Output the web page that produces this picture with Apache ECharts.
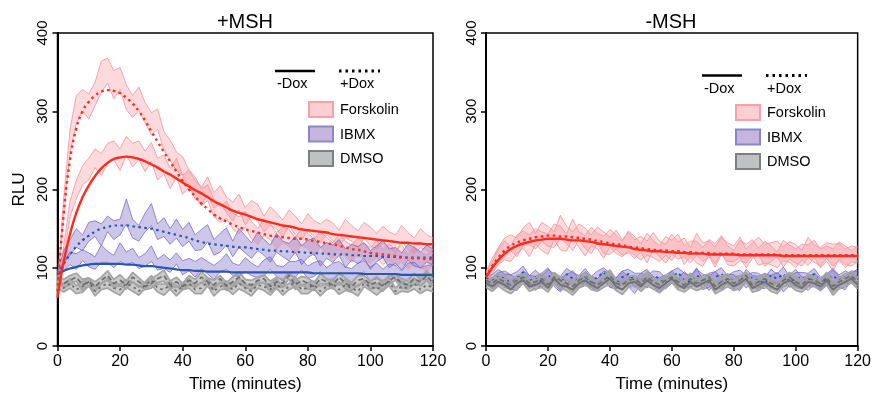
<!DOCTYPE html>
<html><head><meta charset="utf-8">
<script src="https://cdn.jsdelivr.net/npm/echarts@6/dist/echarts.min.js"></script>
<style>html,body{margin:0;padding:0;background:#fff}#c{width:874px;height:398px}</style>
</head><body><div id="c"></div>
<script>
const FONT = "'Liberation Sans', Arial, sans-serif";
const time = [0,2,4,6,8,10,12,14,16,18,20,22,24,26,28,30,32,34,36,38,40,42,44,46,48,50,52,54,56,58,60,62,64,66,68,70,72,74,76,78,80,82,84,86,88,90,92,94,96,98,100,102,104,106,108,110,112,114,116,118,120];
const xTicks = [0,20,40,60,80,100,120];
const yTicks = [0,100,200,300,400];
const panelTitles = ['+MSH','-MSH'];
const legendItems = ['Forskolin','IBMX','DMSO'];
const doxLabels = ['-Dox','+Dox'];

// ---- +MSH panel ----
const fskMinusL_mean = [66,120,175,200,218,226,240,232,246,250,238,256,244,250,236,248,226,232,214,228,206,214,200,192,204,186,194,180,172,184,166,176,170,156,166,160,150,164,154,146,158,150,144,152,146,138,150,144,136,148,140,134,142,136,130,144,134,128,138,132,128];
const fskMinusL_sem = [4,8,10,12,12,14,12,14,13,12,14,12,15,12,13,12,14,12,13,12,12,11,12,11,12,10,11,10,12,10,11,10,11,10,12,10,11,10,12,10,11,10,12,10,11,10,12,10,11,10,12,10,11,10,12,10,11,10,12,10,10];
const fskPlusL_mean = [75,178,262,302,314,306,322,344,352,334,342,318,306,316,298,284,290,262,250,236,230,214,204,190,196,176,168,174,160,154,162,148,140,152,146,134,142,138,128,140,134,126,136,128,122,132,124,118,128,120,116,124,114,120,112,118,108,116,110,106,114];
const fskPlusL_sem = [5,12,15,18,14,16,15,20,16,18,14,16,14,15,13,14,13,12,13,12,12,11,12,11,10,11,10,11,10,11,10,11,10,11,10,11,10,11,10,11,10,11,10,11,10,11,10,11,10,11,10,11,10,11,10,11,10,11,10,11,10];
const fskMinusL_fit = [62,108,143,170,190,205,217,227,234,239,241,242,241,239,236,232,228,223,219,214,209,204,199,195,190,185,181,177,173,170,168,165,162,160,158,156,154,153,151,149,148,147,146,145,143,142,141,140,139,138,137,136,135,134,133,132,132,131,131,130,130];
const fskPlusL_fit = [70,170,238,278,300,312,320,325,327,326,323,317,310,300,288,274,261,248,236,223,211,200,191,182,175,168,163,159,155,152,149,147,145,143,141,140,139,138,137,137,136,134,133,131,130,128,126,124,123,121,119,118,117,116,115,113,113,112,112,111,111];
const ibmxMinusL_mean = [92,102,112,108,116,110,106,118,114,108,120,112,116,106,110,118,104,108,102,112,100,104,98,106,100,94,102,108,98,96,104,98,94,100,106,96,92,100,98,104,94,98,102,92,96,100,94,90,98,102,92,96,90,98,94,88,96,100,92,94,96];
const ibmxMinusL_sem = [3,6,8,10,7,9,8,11,7,8,12,8,9,7,8,10,7,9,8,7,9,8,10,7,8,9,7,10,8,7,9,8,7,10,8,7,9,8,10,7,8,9,7,8,10,8,7,9,8,7,9,10,8,7,9,8,10,7,8,9,8];
const ibmxPlusL_mean = [92,114,126,138,132,146,150,142,156,148,152,172,150,144,158,168,146,152,140,150,138,146,132,136,144,126,132,140,124,138,130,122,134,126,118,132,124,120,130,116,124,128,114,122,118,126,112,120,116,122,110,118,124,112,116,108,120,114,110,118,114];
const ibmxPlusL_sem = [3,8,10,12,10,12,10,14,10,12,10,16,12,10,12,14,10,12,10,12,11,12,10,13,11,10,12,11,10,12,11,10,12,10,11,12,10,11,10,12,11,10,12,10,11,10,12,10,11,10,12,10,11,12,10,11,10,12,10,11,10];
const ibmxPlusL_fit = [92,105,117,127,135,141,146,150,152,154,154,154,153,152,151,150,148,146,144,142,140,138,135,133,131,130,129,128,127,126,126,125,124,123,122,122,121,121,120,120,119,119,118,118,117,117,117,116,116,115,115,115,114,114,114,114,113,113,113,113,113];
const ibmxMinusL_fit = [92,96,99,101,103,104,105,105,105,105,105,104,104,103,102,102,101,100,99,98,97,97,96,96,95,95,95,95,94,94,94,94,94,94,94,94,94,94,94,94,94,93,93,93,93,93,93,93,93,92,92,92,92,92,92,91,91,91,91,91,91];
const dmsoMinusL_mean = [86,80,84,88,78,82,76,84,90,80,84,78,88,82,76,80,86,90,78,82,76,84,80,88,82,78,86,76,82,88,80,78,84,86,76,82,80,90,78,84,80,76,86,82,78,88,80,76,84,86,78,82,76,84,88,80,78,86,82,90,80];
const dmsoPlusL_mean = [78,74,80,72,76,82,70,76,80,74,72,80,76,70,78,84,74,72,78,70,76,80,72,74,82,70,76,78,72,80,74,70,78,76,72,80,70,76,82,72,74,78,70,76,80,72,78,74,70,80,76,72,78,82,70,76,74,80,72,78,74];
const dmsoL_sem = [4,5,6,5,7,5,6,4,6,5,7,5,6,5,4,6,5,7,5,6,4,6,5,7,5,6,4,5,6,7,5,6,4,5,7,6,5,4,6,5,7,5,6,4,5,6,7,5,6,4,5,7,6,5,4,6,5,7,5,6,5];

// ---- -MSH panel ----
const fskMinusR_mean = [88,100,114,122,118,130,136,128,140,134,130,146,138,132,150,136,128,140,134,126,138,130,124,134,128,120,130,124,118,128,122,132,116,124,120,114,126,118,130,116,112,122,118,126,114,120,116,110,122,118,112,120,116,124,112,118,110,122,116,112,118];
const fskPlusR_mean = [90,104,116,126,132,126,140,144,134,146,140,136,152,142,134,146,138,130,142,132,128,136,126,132,124,130,120,134,124,118,130,122,126,116,130,120,124,114,128,120,118,126,112,122,128,116,120,124,114,122,118,112,126,118,114,122,116,120,112,118,116];
const fskR_sem = [5,8,10,12,10,12,11,14,10,12,13,10,15,11,12,10,13,12,10,14,11,12,10,13,12,10,14,11,10,12,13,11,12,10,14,12,10,13,11,12,10,13,12,10,11,14,12,10,13,11,12,10,13,11,12,10,14,11,12,10,10];
const fskMinusR_fit = [88,100,110,118,124,128,131,133,135,136,137,137,137,136,135,135,134,133,131,130,129,128,127,126,124,123,122,121,121,120,120,119,119,118,118,118,117,117,117,117,117,116,116,116,116,116,116,116,115,115,115,115,115,115,115,115,115,115,115,115,115];
const fskPlusR_fit = [88,102,113,122,128,132,135,137,139,140,141,141,140,140,139,138,137,136,134,133,131,130,129,127,126,125,124,123,122,122,121,121,120,120,119,119,119,118,118,118,118,117,117,117,117,117,117,117,116,116,116,116,116,116,116,116,116,116,116,116,116];
const ibmxMinusR_mean = [84,80,86,90,82,78,88,84,80,86,92,82,78,84,88,80,86,82,78,90,84,80,88,82,76,86,90,82,78,84,88,80,86,82,92,78,84,88,80,86,82,78,90,84,80,86,82,88,78,84,90,82,80,86,78,84,88,82,80,90,86];
const ibmxPlusR_mean = [86,84,90,86,82,88,94,84,88,82,90,86,80,92,86,84,90,82,88,94,84,80,88,92,84,86,82,90,86,80,88,94,84,82,90,86,80,88,92,84,86,90,82,88,84,80,90,86,92,82,86,88,84,92,80,86,90,84,88,86,90];
const ibmxR_sem = [4,7,8,6,9,7,8,6,9,7,8,6,9,7,8,6,9,7,8,6,9,7,8,6,9,7,8,6,9,7,8,6,9,7,8,6,9,7,8,6,9,7,8,6,9,7,8,6,9,7,8,6,9,7,8,6,9,7,8,6,9];
const dmsoMinusR_mean = [80,76,82,78,72,80,84,76,78,82,74,86,78,76,72,80,84,78,74,80,86,76,72,80,82,76,84,78,74,80,86,78,74,82,76,80,84,72,78,82,76,80,86,74,78,82,76,72,80,84,78,74,82,80,76,84,72,78,82,86,78];
const dmsoPlusR_mean = [84,80,86,82,78,84,88,80,82,86,78,88,84,80,76,84,88,82,78,84,90,80,78,84,86,80,88,82,78,84,88,82,78,86,80,84,88,76,82,86,80,84,90,78,82,86,80,76,84,88,82,78,86,84,80,88,76,82,86,90,82];
const dmsoR_sem = [5,6,5,7,5,6,4,6,5,7,5,6,4,5,7,6,5,6,4,5,7,5,6,5,4,6,7,5,6,5,4,6,5,7,5,6,4,5,7,6,5,6,4,5,7,5,6,5,4,6,7,5,6,4,5,6,7,5,6,5,5];

const C = {
  pinkFill:'rgba(246,140,150,0.32)', pinkLine:'rgba(246,150,158,0.85)',
  purpFill:'rgba(125,105,195,0.38)', purpLine:'rgba(115,105,195,0.75)',
  grayFill:'rgba(160,160,160,0.55)', grayLine:'#a4a4a4',
  red:'#ff2b1c', blue:'#2b55b3', dark:'#6f6f6f'
};

function band(id, ax, mean, sem, fill, line, bw){
  const lo = mean.map((m,i)=>m-sem[i]);
  const span = sem.map(s=>2*s);
  return [
    {type:'line', xAxisIndex:ax, yAxisIndex:ax, stack:id, data:lo, symbol:'none', silent:true, lineStyle:{color:line,width:bw}},
    {type:'line', xAxisIndex:ax, yAxisIndex:ax, stack:id, data:span, symbol:'none', silent:true, lineStyle:{color:line,width:bw}, areaStyle:{color:fill,opacity:1}}
  ];
}
function ln(ax, y, color, width, dash, smooth){
  return {type:'line', xAxisIndex:ax, yAxisIndex:ax, data:y, symbol:'none', silent:true, smooth:smooth,
    lineStyle:{color:color, width:width, type:dash, cap:'butt'}};
}
const DOT = [2.5,3.5];

const series = [].concat(
  band('fmL',0,fskMinusL_mean,fskMinusL_sem,C.pinkFill,C.pinkLine,1),
  band('fpL',0,fskPlusL_mean,fskPlusL_sem,C.pinkFill,C.pinkLine,1),
  band('imL',0,ibmxMinusL_mean,ibmxMinusL_sem,C.purpFill,C.purpLine,1),
  band('ipL',0,ibmxPlusL_mean,ibmxPlusL_sem,C.purpFill,C.purpLine,1),
  band('dmL',0,dmsoMinusL_mean,dmsoL_sem,C.grayFill,C.grayLine,1.8),
  band('dpL',0,dmsoPlusL_mean,dmsoL_sem,C.grayFill,C.grayLine,1.8),
  [ln(0,dmsoMinusL_mean,C.dark,1.8,[5,3],false), ln(0,dmsoPlusL_mean,C.dark,1.8,DOT,false),
   ln(0,ibmxMinusL_fit,C.blue,2.2,'solid',true), ln(0,ibmxPlusL_fit,C.blue,2.2,DOT,true),
   ln(0,fskMinusL_fit,C.red,2.4,'solid',true), ln(0,fskPlusL_fit,C.red,2.4,DOT,true)],
  band('fmR',1,fskMinusR_mean,fskR_sem,C.pinkFill,C.pinkLine,1),
  band('fpR',1,fskPlusR_mean,fskR_sem,C.pinkFill,C.pinkLine,1),
  band('imR',1,ibmxMinusR_mean,ibmxR_sem,C.purpFill,C.purpLine,1),
  band('ipR',1,ibmxPlusR_mean,ibmxR_sem,C.purpFill,C.purpLine,1),
  [ln(1,ibmxPlusR_mean,C.blue,2,DOT,false)],
  band('dmR',1,dmsoMinusR_mean,dmsoR_sem,C.grayFill,C.grayLine,1.8),
  band('dpR',1,dmsoPlusR_mean,dmsoR_sem,C.grayFill,C.grayLine,1.8),
  [ln(1,dmsoMinusR_mean,C.dark,1.8,'solid',false), ln(1,dmsoPlusR_mean,C.dark,1.8,[5,3],false),
   ln(1,fskMinusR_fit,C.red,2.4,'solid',true), ln(1,fskPlusR_fit,C.red,2.4,DOT,true)]
);

function xAxis(i){
  return {type:'category', gridIndex:i, data:time, boundaryGap:false,
    name:'Time (minutes)', nameLocation:'middle', nameGap:30,
    nameTextStyle:{fontFamily:FONT, fontSize:17, color:'#000'},
    axisLine:{lineStyle:{color:'#000', width:2}},
    axisTick:{length:5, interval:(idx,val)=>xTicks.indexOf(Number(val))>=0, lineStyle:{width:1.5, color:'#000'}},
    axisLabel:{fontFamily:FONT, fontSize:16, color:'#000', margin:8, interval:(idx,val)=>xTicks.indexOf(Number(val))>=0},
    splitLine:{show:false}};
}
function yAxis(i){
  return {type:'value', gridIndex:i, min:yTicks[0], max:yTicks[yTicks.length-1], interval:100,
    name: i===0 ? 'RLU' : '', nameLocation:'middle', nameGap:30,
    nameTextStyle:{fontFamily:FONT, fontSize:17, color:'#000'},
    axisLine:{show:true, lineStyle:{color:'#000', width:2}},
    axisTick:{show:true, length:5, lineStyle:{width:1.5, color:'#000'}},
    axisLabel:{fontFamily:FONT, fontSize:15, color:'#000', rotate:90, margin:7},
    splitLine:{show:false}};
}

function legendGraphics(lx, ly, bx, by, tx){
  const g = [];
  g.push({type:'line', shape:{x1:lx, y1:ly, x2:lx+40, y2:ly}, style:{stroke:'#000', lineWidth:2.5}});
  g.push({type:'text', x:lx+2, y:ly+13, style:{text:doxLabels[0], font:'14.5px '+FONT, fill:'#000', textVerticalAlign:'middle'}});
  g.push({type:'line', shape:{x1:lx+64, y1:ly, x2:lx+105, y2:ly}, style:{stroke:'#000', lineWidth:3, lineDash:[2.5,4]}});
  g.push({type:'text', x:lx+65, y:ly+13, style:{text:doxLabels[1], font:'14.5px '+FONT, fill:'#000', textVerticalAlign:'middle'}});
  const fills = ['#fbd0d3','#c6b6dd','#bfc1c3'];
  const strokes = ['#f6a2a7','#8a86cc','#7f7f7f'];
  legendItems.forEach((name,k)=>{
    g.push({type:'rect', shape:{x:bx, y:by+k*24.5, width:24, height:15}, style:{fill:fills[k], stroke:strokes[k], lineWidth:2}});
    g.push({type:'text', x:tx, y:by+k*24.5+8, style:{text:name, font:'14.5px '+FONT, fill:'#000', textVerticalAlign:'middle'}});
  });
  return g;
}

const graphics = [].concat(
  [{type:'text', x:245, y:22, style:{text:panelTitles[0], font:'20px '+FONT, fill:'#000', textAlign:'center', textVerticalAlign:'middle'}},
   {type:'text', x:671, y:22, style:{text:panelTitles[1], font:'20px '+FONT, fill:'#000', textAlign:'center', textVerticalAlign:'middle'}}],
  legendGraphics(275, 71, 309, 102, 340),
  legendGraphics(702, 75.5, 736, 105, 767)
);

const chart = echarts.init(document.getElementById('c'));
chart.setOption({
  animation:false,
  backgroundColor:'#fff',
  grid:[
    {left:57.5, top:33, width:375.5, height:314, show:true, borderColor:'#000', borderWidth:1.5, backgroundColor:'transparent'},
    {left:486, top:33, width:377, height:314, show:true, borderColor:'#000', borderWidth:1.5, backgroundColor:'transparent'}
  ],
  xAxis:[xAxis(0), xAxis(1)],
  yAxis:[yAxis(0), yAxis(1)],
  series:series,
  graphic:graphics
});
</script></body></html>
